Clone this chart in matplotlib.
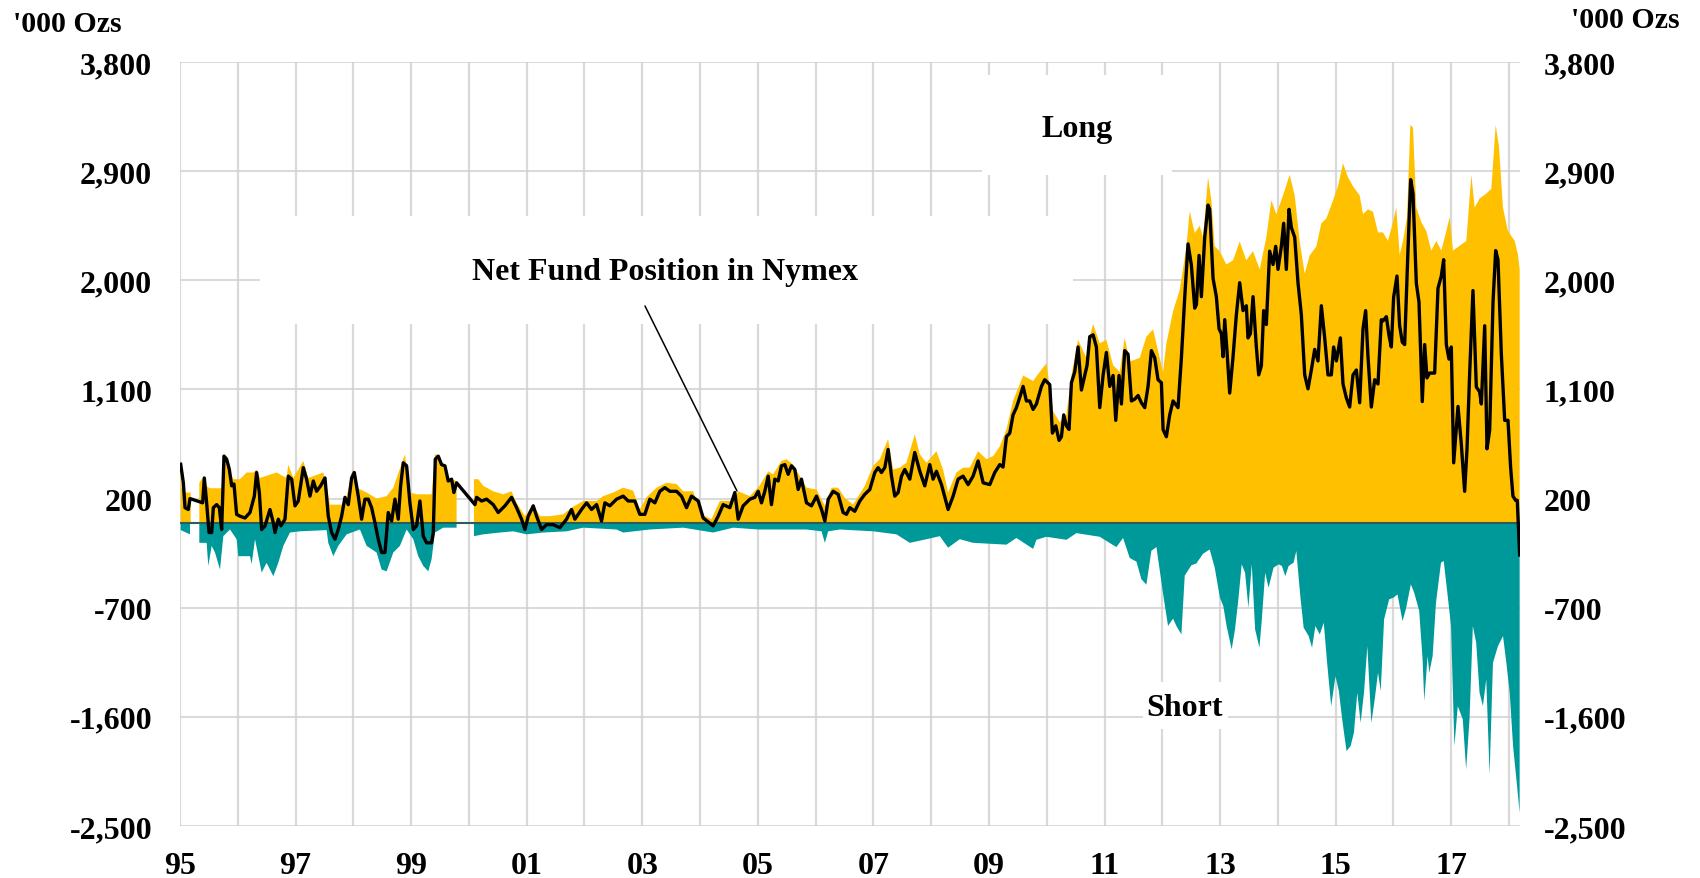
import numpy as np
import matplotlib
matplotlib.use("Agg")
import matplotlib.pyplot as plt
from matplotlib.patches import Rectangle

plt.rcParams['font.family'] = ['Liberation Serif', 'DejaVu Serif']
plt.rcParams['font.weight'] = 'bold'

NAN = float('nan')

# ---------------- data (decimal years, '000 oz) ----------------
net_year = [
    1995.012, 1995.058, 1995.087, 1995.144, 1995.173, 1995.392, 1995.421, 1995.461, 1995.502, 1995.548,
    1995.577, 1995.634, 1995.681, 1995.721, 1995.761, 1995.807, 1995.854, 1995.894, 1995.934, 1995.980,
    1996.038, 1996.125, 1996.211, 1996.286, 1996.326, 1996.373, 1996.413, 1996.471, 1996.557, 1996.615,
    1996.644, 1996.701, 1996.747, 1996.817, 1996.874, 1996.932, 1996.990, 1997.047, 1997.134, 1997.191,
    1997.249, 1997.307, 1997.364, 1997.434, 1997.509, 1997.566, 1997.624, 1997.682, 1997.739, 1997.797,
    1997.855, 1997.912, 1997.970, 1998.016, 1998.085, 1998.143, 1998.201, 1998.258, 1998.316, 1998.374,
    1998.431, 1998.489, 1998.547, 1998.604, 1998.662, 1998.720, 1998.777, 1998.818, 1998.864, 1998.922,
    1998.979, 1999.037, 1999.095, 1999.152, 1999.210, 1999.268, 1999.354, 1999.383, 1999.418, 1999.469,
    1999.527, 1999.585, 1999.642, 1999.700, 1999.740, 1999.787, 2000.104, 2000.133, 2000.219, 2000.306,
    2000.421, 2000.507, 2000.623, 2000.738, 2000.825, 2000.911, 2000.969, 2001.027, 2001.113, 2001.171,
    2001.257, 2001.344, 2001.459, 2001.574, 2001.690, 2001.776, 2001.834, 2001.949, 2002.036, 2002.122,
    2002.209, 2002.295, 2002.353, 2002.439, 2002.555, 2002.670, 2002.756, 2002.872, 2002.958, 2003.045,
    2003.131, 2003.218, 2003.304, 2003.391, 2003.478, 2003.593, 2003.679, 2003.766, 2003.852, 2003.968,
    2004.054, 2004.227, 2004.314, 2004.400, 2004.516, 2004.602, 2004.660, 2004.746, 2004.862, 2004.948,
    2005.006, 2005.063, 2005.121, 2005.179, 2005.236, 2005.294, 2005.352, 2005.409, 2005.467, 2005.525,
    2005.582, 2005.640, 2005.698, 2005.755, 2005.842, 2005.928, 2006.015, 2006.102, 2006.160, 2006.218,
    2006.304, 2006.390, 2006.476, 2006.534, 2006.592, 2006.678, 2006.765, 2006.851, 2006.938, 2007.024,
    2007.082, 2007.139, 2007.197, 2007.255, 2007.313, 2007.370, 2007.428, 2007.486, 2007.543, 2007.630,
    2007.716, 2007.803, 2007.889, 2007.976, 2008.033, 2008.091, 2008.178, 2008.293, 2008.379, 2008.466,
    2008.552, 2008.639, 2008.725, 2008.812, 2008.899, 2009.014, 2009.100, 2009.187, 2009.244, 2009.302,
    2009.360, 2009.417, 2009.475, 2009.533, 2009.591, 2009.648, 2009.706, 2009.764, 2009.821, 2009.908,
    2009.965, 2010.052, 2010.098, 2010.156, 2010.213, 2010.254, 2010.294, 2010.340, 2010.386, 2010.427,
    2010.484, 2010.542, 2010.600, 2010.657, 2010.698, 2010.744, 2010.802, 2010.859, 2010.917, 2010.975,
    2011.032, 2011.090, 2011.148, 2011.194, 2011.251, 2011.292, 2011.349, 2011.407, 2011.465, 2011.523,
    2011.580, 2011.638, 2011.696, 2011.753, 2011.811, 2011.869, 2011.926, 2011.984, 2012.013, 2012.070,
    2012.128, 2012.186, 2012.272, 2012.330, 2012.388, 2012.445, 2012.503, 2012.561, 2012.590, 2012.636,
    2012.676, 2012.734, 2012.791, 2012.820, 2012.878, 2012.935, 2012.982, 2013.022, 2013.051, 2013.080,
    2013.120, 2013.166, 2013.224, 2013.281, 2013.339, 2013.397, 2013.454, 2013.483, 2013.524, 2013.570,
    2013.627, 2013.668, 2013.714, 2013.754, 2013.800, 2013.858, 2013.916, 2013.962, 2014.002, 2014.060,
    2014.100, 2014.146, 2014.193, 2014.233, 2014.291, 2014.348, 2014.406, 2014.464, 2014.521, 2014.579,
    2014.637, 2014.694, 2014.752, 2014.810, 2014.867, 2014.925, 2014.965, 2015.012, 2015.081, 2015.127,
    2015.185, 2015.242, 2015.300, 2015.358, 2015.415, 2015.473, 2015.519, 2015.559, 2015.617, 2015.675,
    2015.732, 2015.790, 2015.819, 2015.877, 2015.923, 2015.963, 2016.003, 2016.061, 2016.107, 2016.153,
    2016.194, 2016.251, 2016.298, 2016.338, 2016.396, 2016.442, 2016.499, 2016.540, 2016.580, 2016.626,
    2016.713, 2016.771, 2016.828, 2016.869, 2016.915, 2016.961, 2017.001, 2017.042, 2017.117, 2017.174,
    2017.232, 2017.273, 2017.319, 2017.376, 2017.434, 2017.492, 2017.521, 2017.579, 2017.619, 2017.665,
    2017.723, 2017.769, 2017.809, 2017.867, 2017.925, 2017.982, 2018.028, 2018.068, 2018.115, 2018.143,
    2018.184,
]
net_val = [
    483, 330, 125, 110, 200, 165, 370, 165, -80, -80,
    125, 150, 125, -55, 550, 525, 440, 305, 320, 70,
    55, 40, 85, 220, 415, 250, -55, -25, 110, 0,
    -80, 30, -25, 30, 385, 360, 140, 180, 455, 360,
    220, 345, 260, 305, 370, 55, -80, -135, -55, 55,
    210, 150, 370, 415, 220, 30, 195, 195, 125, 0,
    -135, -245, -245, 85, 15, 195, 30, 305, 495, 470,
    165, -55, -25, 180, -110, -165, -165, -80, 525, 550,
    480, 470, 345, 360, 250, 330, 150, 210, 180, 195,
    150, 85, 140, 210, 125, 30, -55, 55, 140, 55,
    -55, -15, -15, -40, 30, 110, 30, 110, 165, 110,
    150, 15, 165, 140, 195, 220, 180, 180, 70, 70,
    195, 165, 260, 290, 260, 260, 220, 125, 220, 180,
    40, -25, 55, 150, 125, 250, 30, 140, 195, 210,
    260, 165, 260, 385, 150, 360, 345, 470, 480, 400,
    470, 440, 275, 360, 165, 140, 220, 110, 15, 195,
    260, 235, 85, 70, 125, 95, 180, 235, 275, 415,
    455, 415, 455, 605, 385, 220, 250, 385, 440, 360,
    580, 425, 305, 480, 360, 425, 315, 110, 220, 360,
    385, 315, 385, 510, 330, 315, 415, 480, 460, 710,
    740, 890, 950, 1035, 1125, 1005, 1005, 935, 980, 1125,
    1180, 1140, 740, 800, 680, 710, 890, 800, 770, 1155,
    1245, 1450, 1095, 1215, 1300, 1535, 1550, 1450, 950, 1215,
    1405, 1125, 1215, 845, 1215, 980, 1420, 1390, 1005, 1020,
    1050, 990, 950, 1125, 1420, 1360, 1180, 1155, 770, 710,
    890, 1005, 950, 1360, 1860, 2300, 2125, 1770, 1800, 2205,
    1865, 2355, 2620, 2585, 2015, 1865, 1600, 1560, 1370, 1675,
    1410, 1070, 1370, 1715, 1980, 1750, 1790, 1525, 1560, 1865,
    1450, 1220, 1295, 1750, 1635, 2240, 2130, 2280, 2090, 2280,
    2470, 2090, 2585, 2435, 2355, 1980, 1715, 1220, 1105, 1260,
    1430, 1335, 1790, 1525, 1220, 1220, 1450, 1335, 1525, 1145,
    1030, 955, 1220, 1260, 990, 1600, 1750, 1370, 955, 1180,
    1145, 1675, 1665, 1700, 1545, 1450, 1860, 2035, 1625, 1490,
    1470, 2245, 2830, 2715, 1975, 1820, 1000, 1470, 1195, 1235,
    1235, 1935, 2035, 2170, 1470, 1350, 1450, 495, 960, 650,
    260, 610, 1235, 1915, 1120, 1080, 980, 1625, 610, 765,
    1820, 2245, 2170, 1390, 845, 845, 455, 220, 185, 185,
    -265,
]

long_year = [
    1995.012, 1995.029, 1995.087, 1995.185, 1995.260, 1995.334, 1995.404, 1995.461, 1995.519, 1995.721,
    1995.761, 1995.807, 1995.865, 1995.923, 1996.038, 1996.153, 1996.269, 1996.326, 1996.384, 1996.672,
    1996.845, 1996.874, 1996.961, 1997.134, 1997.220, 1997.307, 1997.480, 1997.537, 1997.595, 1997.797,
    1997.884, 1997.987, 1998.057, 1998.230, 1998.403, 1998.576, 1998.691, 1998.893, 1998.979, 1999.095,
    1999.354, 1999.412, 1999.498, 1999.614, 1999.787, 1999.950, 2000.087, 2000.162, 2000.248, 2000.421,
    2000.594, 2000.738, 2000.825, 2000.969, 2001.113, 2001.228, 2001.401, 2001.632, 2001.776, 2001.978,
    2002.209, 2002.324, 2002.497, 2002.670, 2002.843, 2002.958, 2003.074, 2003.247, 2003.420, 2003.593,
    2003.708, 2003.881, 2004.025, 2004.198, 2004.342, 2004.573, 2004.660, 2004.862, 2005.029, 2005.179,
    2005.265, 2005.409, 2005.496, 2005.611, 2005.727, 2005.842, 2006.015, 2006.160, 2006.275, 2006.390,
    2006.505, 2006.649, 2006.851, 2006.995, 2007.111, 2007.255, 2007.341, 2007.457, 2007.572, 2007.716,
    2007.803, 2007.918, 2008.091, 2008.206, 2008.293, 2008.437, 2008.552, 2008.668, 2008.812, 2008.956,
    2009.072, 2009.187, 2009.302, 2009.417, 2009.591, 2009.764, 2009.879, 2009.994, 2010.110, 2010.225,
    2010.340, 2010.427, 2010.542, 2010.686, 2010.744, 2010.802, 2010.917, 2011.032, 2011.148, 2011.263,
    2011.349, 2011.436, 2011.609, 2011.724, 2011.840, 2011.955, 2012.013, 2012.070, 2012.186, 2012.301,
    2012.416, 2012.474, 2012.561, 2012.647, 2012.705, 2012.791, 2012.849, 2012.907, 2012.993, 2013.108,
    2013.224, 2013.339, 2013.454, 2013.570, 2013.685, 2013.800, 2013.887, 2013.973, 2014.089, 2014.204,
    2014.291, 2014.377, 2014.464, 2014.550, 2014.666, 2014.752, 2014.839, 2014.925, 2015.040, 2015.127,
    2015.213, 2015.300, 2015.415, 2015.473, 2015.559, 2015.646, 2015.732, 2015.819, 2015.905, 2015.992,
    2016.049, 2016.107, 2016.165, 2016.234, 2016.292, 2016.338, 2016.396, 2016.482, 2016.569, 2016.655,
    2016.742, 2016.828, 2016.915, 2016.972, 2017.030, 2017.146, 2017.261, 2017.348, 2017.405, 2017.492,
    2017.607, 2017.694, 2017.769, 2017.826, 2017.895, 2017.982, 2018.040, 2018.098, 2018.155, 2018.184,
]
long_val = [
    520, 290, 250, 250, NAN, 330, 380, 300, 285, 285,
    570, 540, 420, 360, 360, 415, 415, 440, 370, 415,
    370, 480, 370, 510, 370, 385, 415, 305, 150, 150,
    220, 440, 290, 250, 200, 220, 290, 565, 250, 235,
    235, 565, 550, 370, 345, NAN, 360, 360, 305, 260,
    235, 260, 165, 55, 150, 55, 55, 70, 125, 180,
    180, 220, 250, 290, 265, 110, 210, 290, 330, 320,
    260, 260, 70, 30, 180, 180, 260, 220, 305, 425,
    400, 510, 525, 480, 385, 290, 275, 140, 290, 290,
    205, 150, 305, 470, 525, 690, 440, 455, 495, 730,
    565, 495, 590, 440, 250, 415, 455, 455, 590, 525,
    550, 630, 770, 1005, 1215, 1170, 1245, 1315, 920, 830,
    890, 1215, 1510, 1360, 1535, 1640, 1480, 1510, 1300, 1245,
    1525, 1330, 1360, 1535, 1595, 1360, 1245, 1480, 1745, 1920,
    2275, 2570, 2390, 2450, 2355, 2850, 2660, 2280, 2240, 2130,
    2165, 2320, 2165, 2240, 2090, 2355, 2660, 2545, 2700, 2870,
    2700, 2320, 2055, 2205, 2280, 2470, 2510, 2620, 2775, 2965,
    2850, 2775, 2700, 2545, 2585, 2565, 2395, 2395, 2325, 2480,
    2600, 2210, 2325, 2520, 3280, 3260, 2600, 2480, 2405, 2245,
    2325, 2245, 2405, 2520, 2245, 2285, 2325, 2870, 2600, 2675,
    2715, 2755, 3280, 3105, 2600, 2405, 2365, 2325, 2210, 2090,
]

short_year = [
    1995.012, 1995.173, 1995.260, 1995.334, 1995.461, 1995.490, 1995.548, 1995.606, 1995.692, 1995.750,
    1995.865, 1995.980, 1996.009, 1996.211, 1996.240, 1996.298, 1996.413, 1996.499, 1996.615, 1996.701,
    1996.788, 1996.903, 1997.076, 1997.537, 1997.566, 1997.653, 1997.739, 1997.884, 1998.114, 1998.230,
    1998.403, 1998.489, 1998.576, 1998.691, 1998.806, 1998.922, 1999.037, 1999.123, 1999.210, 1999.296,
    1999.354, 1999.412, 1999.556, 1999.787, 1999.950, 2000.087, 2000.248, 2000.536, 2000.767, 2000.998,
    2001.286, 2001.690, 2001.978, 2002.555, 2002.670, 2003.131, 2003.708, 2004.227, 2004.573, 2005.006,
    2005.265, 2005.842, 2006.102, 2006.160, 2006.218, 2006.419, 2006.995, 2007.399, 2007.630, 2007.918,
    2008.149, 2008.293, 2008.495, 2008.725, 2009.302, 2009.475, 2009.764, 2009.821, 2009.994, 2010.340,
    2010.513, 2010.917, 2011.205, 2011.321, 2011.436, 2011.552, 2011.638, 2011.724, 2011.811, 2011.898,
    2012.013, 2012.099, 2012.186, 2012.243, 2012.330, 2012.388, 2012.503, 2012.589, 2012.705, 2012.820,
    2012.907, 2012.997, 2013.055, 2013.113, 2013.200, 2013.258, 2013.316, 2013.374, 2013.432, 2013.490,
    2013.548, 2013.606, 2013.681, 2013.722, 2013.780, 2013.838, 2013.925, 2014.012, 2014.070, 2014.128,
    2014.186, 2014.272, 2014.319, 2014.388, 2014.446, 2014.533, 2014.591, 2014.649, 2014.725, 2014.794,
    2014.852, 2014.922, 2014.997, 2015.055, 2015.113, 2015.188, 2015.258, 2015.316, 2015.374, 2015.432,
    2015.490, 2015.548, 2015.617, 2015.675, 2015.733, 2015.780, 2015.838, 2015.925, 2016.000, 2016.070,
    2016.157, 2016.214, 2016.301, 2016.359, 2016.446, 2016.504, 2016.533, 2016.591, 2016.620, 2016.678,
    2016.736, 2016.823, 2016.870, 2016.939, 2016.997, 2017.055, 2017.113, 2017.200, 2017.258, 2017.316,
    2017.374, 2017.432, 2017.490, 2017.548, 2017.606, 2017.664, 2017.722, 2017.809, 2017.896, 2017.954,
    2018.012, 2018.070, 2018.128, 2018.184,
]
short_val = [
    -60, -95, NAN, -165, -165, -355, -190, -245, -385, -110,
    -55, -135, -275, -275, -340, -135, -410, -330, -440, -330,
    -190, -80, -70, -60, -165, -275, -190, -95, -55, -190,
    -245, -385, -400, -245, -190, -55, -135, -275, -355, -400,
    -300, -80, -40, -40, NAN, -110, -95, -80, -70, -95,
    -80, -70, -40, -55, -80, -55, -40, -80, -40, -55,
    -55, -55, -70, -165, -70, -55, -70, -95, -165, -135,
    -110, -205, -135, -165, -180, -125, -215, -140, -115, -140,
    -85, -115, -200, -125, -290, -320, -465, -510, -230, -200,
    -585, -850, -790, -850, -920, -435, -350, -335, -255, -220,
    -370, -617, -686, -851, -1044, -879, -631, -342, -411, -700,
    -342, -879, -1030, -796, -411, -535, -370, -342, -356, -439,
    -356, -328, -232, -604, -865, -934, -1030, -851, -920, -824,
    -1154, -1511, -1264, -1387, -1621, -1882, -1841, -1731, -1401, -1649,
    -1401, -1016, -1649, -1457, -1236, -1387, -796, -631, -617, -590,
    -810, -714, -507, -576, -727, -1126, -1470, -1099, -1236, -1099,
    -659, -328, -315, -604, -851, -1841, -1511, -1621, -2034, -1621,
    -851, -989, -1401, -1511, -1291, -2076, -1154, -1016, -934, -1154,
    -1401, -1841, -2117, -2392,
]

y_ticks = [3800, 2900, 2000, 1100, 200, -700, -1600, -2500]
x_years = list(range(1995, 2019))
x_labels = ["95", "", "97", "", "99", "", "01", "", "03", "", "05", "", "07", "",
            "09", "", "11", "", "13", "", "15", "", "17", ""]

GOLD = "#FFC000"
TEAL = "#009999"
FS = 23
FS_UNIT = 21.5

# ---------------- figure ----------------
W, H = 1700, 879
fig = plt.figure(figsize=(W / 100, H / 100), dpi=100)
L, R, T, B = 180, 1520, 63, 827
ax = fig.add_axes([L / W, 1 - B / H, (R - L) / W, (B - T) / H])

X0, X1 = 1995.0, 2018.19
ax.set_xlim(X0, X1)
ax.set_ylim(-2500, 3800)

for s in ax.spines.values():
    s.set_visible(False)

ax.set_axisbelow(True)
ax.set_xticks(x_years)
ax.set_xticklabels(x_labels)
ax.set_yticks(y_ticks)
ax.set_yticklabels([f"{v:,}" for v in y_ticks])
ax.xaxis.grid(True, color="#D9D9D9", lw=1.6, zorder=0)
ax.yaxis.grid(True, color="#CFCFCF", lw=1.1, zorder=0)
ax.tick_params(axis="both", length=0, labelsize=FS)
ax.tick_params(axis="x", pad=18)
ax.tick_params(axis="y", pad=20)
for lab in ax.get_xticklabels() + ax.get_yticklabels():
    lab.set_fontweight("bold")


def px2data(px, py):
    return (X0 + (px - L) / (R - L) * (X1 - X0),
            3800 - (py - T) / (B - T) * 6300)


# white boxes behind annotation text (hide gridlines)
for (x0p, y0p, x1p, y1p) in [(982, 76, 1172, 176), (260, 217, 1073, 325), (1143, 683, 1228, 730)]:
    xa, ya = px2data(x0p, y1p)
    xb, yb = px2data(x1p, y0p)
    ax.add_patch(Rectangle((xa, ya), xb - xa, yb - ya, facecolor="white",
                           edgecolor="none", zorder=1))

ax.fill_between(long_year, 0, long_val, color=GOLD, lw=0, zorder=2)
ax.fill_between(short_year, 0, short_val, color=TEAL, lw=0, zorder=2)
ax.axhline(0, color="#2E5B5B", lw=1.5, zorder=3)
ax.plot(net_year, net_val, color="black", lw=2.4, zorder=4, solid_joinstyle="round")

# annotations
tx, ty = px2data(1077, 130)
ax.text(tx, ty, "Long", ha="center", va="center", fontsize=FS, fontweight="bold", zorder=5)
tx, ty = px2data(1185, 708)
ax.text(tx, ty, "Short", ha="center", va="center", fontsize=FS, fontweight="bold", zorder=5)
tx, ty = px2data(665, 273)
ax.text(tx, ty, "Net Fund Position in Nymex", ha="center", va="center", fontsize=FS,
        fontweight="bold", zorder=5)
sx, sy = px2data(645, 307)
ex, ey = px2data(737, 492)
ax.annotate("", xy=(ex, ey), xytext=(sx, sy),
            arrowprops=dict(arrowstyle="-", color="black", lw=1.1, shrinkA=0, shrinkB=0),
            zorder=5)

# right axis
ax2 = ax.twinx()
ax2.set_ylim(ax.get_ylim())
ax2.set_yticks(y_ticks)
ax2.set_yticklabels([f"{v:,}" for v in y_ticks])
for s in ax2.spines.values():
    s.set_visible(False)
ax2.tick_params(axis="y", length=0, labelsize=FS, pad=17)
for lab in ax2.get_yticklabels():
    lab.set_fontweight("bold")

fig.text(13 / W, 1 - 25 / H, "'000 Ozs", ha="left", va="center", fontsize=FS_UNIT, fontweight="bold")
fig.text(1625 / W, 1 - 20 / H, "'000 Ozs", ha="center", va="center", fontsize=FS_UNIT, fontweight="bold")

fig.savefig("out.png", dpi=100)
